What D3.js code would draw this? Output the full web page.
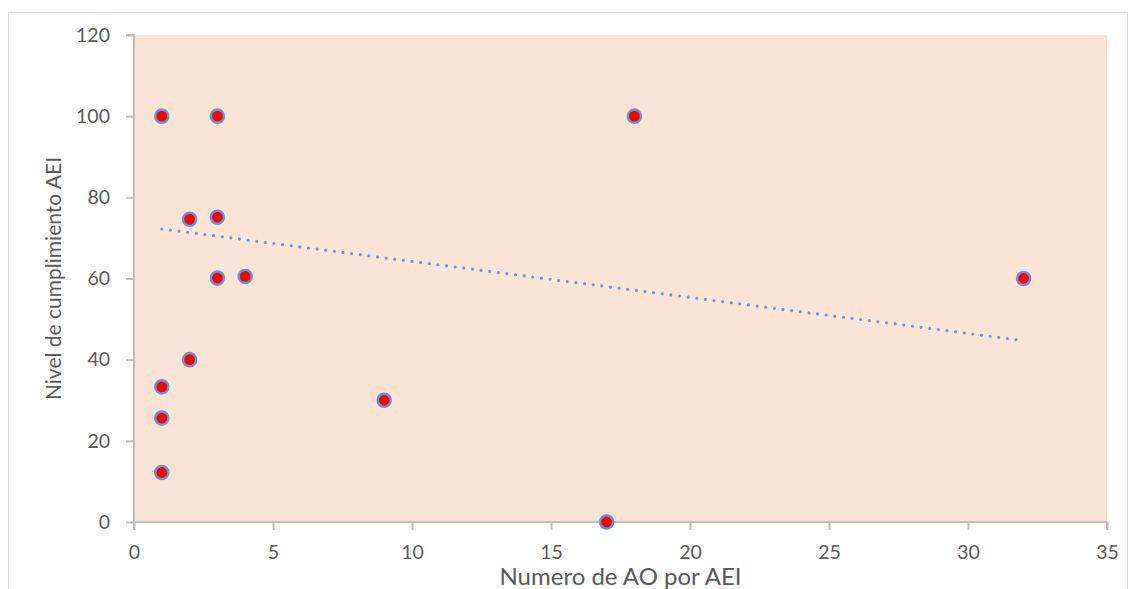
<!DOCTYPE html>
<html>
<head>
<meta charset="utf-8">
<script src="https://cdn.jsdelivr.net/npm/d3@7"></script>
<style>
  body { margin: 0; background: #fff; }
  svg text { font-family: Lato, "Open Sans", sans-serif; fill: #595959; }
</style>
</head>
<body>
<div id="chart"></div>
<script>
// data
let aoCount = [1, 3, 2, 3, 3, 4, 2, 1, 1, 1, 9, 17, 18, 32];
let compliance = [100, 100, 74.6, 75.1, 60.1, 60.5, 40, 33.3, 25.6, 12.2, 30, 0, 100, 60];
let trendX = [1, 32];
let trendY = [72.2, 44.7];
let xTicks = [0, 5, 10, 15, 20, 25, 30, 35];
let yTicks = [0, 20, 40, 60, 80, 100, 120];

let margin = { top: 35, right: 24, bottom: 67, left: 134 };
let width = 1131 - margin.left - margin.right;
let height = 589 - margin.top - margin.bottom;

var svg = d3.select("#chart").append("svg")
    .attr("width", 1131)
    .attr("height", 589);

// chart frame
svg.append("rect")
    .attr("x", 8.5).attr("y", 12.5)
    .attr("width", 1119).attr("height", 620)
    .attr("fill", "none")
    .attr("stroke", "#d9d9d9");

var g = svg.append("g")
    .attr("transform", "translate(" + margin.left + "," + margin.top + ")");

var x = d3.scaleLinear().domain([0, 35]).range([0, width]);
var y = d3.scaleLinear().domain([0, 120]).range([height, 0]);

g.append("rect")
    .attr("width", width).attr("height", height)
    .attr("fill", "#fbe4d6");

var xAxis = g.append("g")
    .attr("transform", "translate(0," + height + ")")
    .call(d3.axisBottom(x).tickValues(xTicks).tickSize(8).tickPadding(15));

var yAxis = g.append("g")
    .call(d3.axisLeft(y).tickValues(yTicks).tickSize(8).tickPadding(16));

[xAxis, yAxis].forEach(function (a) {
    a.select(".domain").attr("stroke", "#bfbfbf").attr("stroke-width", 2);
    a.selectAll(".tick line").attr("stroke", "#bfbfbf").attr("stroke-width", 2);
    a.selectAll(".tick text").attr("font-size", 19.5).style("fill", "#595959");
});
xAxis.select(".domain").attr("d", "M0,8V0H" + width + "V8");
yAxis.select(".domain").attr("d", "M-8,0H0V" + height);

// linear trendline (dotted)
var trend = trendX.map((d, i) => ({ x: d, y: trendY[i] }));
g.append("path")
    .datum(trend)
    .attr("fill", "none")
    .attr("stroke", "#5b9bd5")
    .attr("stroke-width", 3.2)
    .attr("stroke-linecap", "round")
    .attr("stroke-dasharray", "0,8.7")
    .attr("d", d3.line().x(d => x(d.x)).y(d => y(d.y)));

g.selectAll(".dot")
    .data(aoCount)
    .enter().append("circle")
    .attr("class", "dot")
    .attr("cx", d => x(d))
    .attr("cy", (d, i) => y(compliance[i]))
    .attr("r", 6.6)
    .attr("fill", "#ff0000")
    .attr("stroke", "#5b9bd5")
    .attr("stroke-width", 2.4);

// axis titles
svg.append("text")
    .attr("x", margin.left + width / 2)
    .attr("y", 585)
    .attr("text-anchor", "middle")
    .attr("font-size", 24)
    .text("Numero de AO por AEI");

svg.append("text")
    .attr("transform", "translate(61," + (margin.top + height / 2) + ") rotate(-90)")
    .attr("text-anchor", "middle")
    .attr("font-size", 21)
    .text("Nivel de cumplimiento AEI");
</script>
</body>
</html>
